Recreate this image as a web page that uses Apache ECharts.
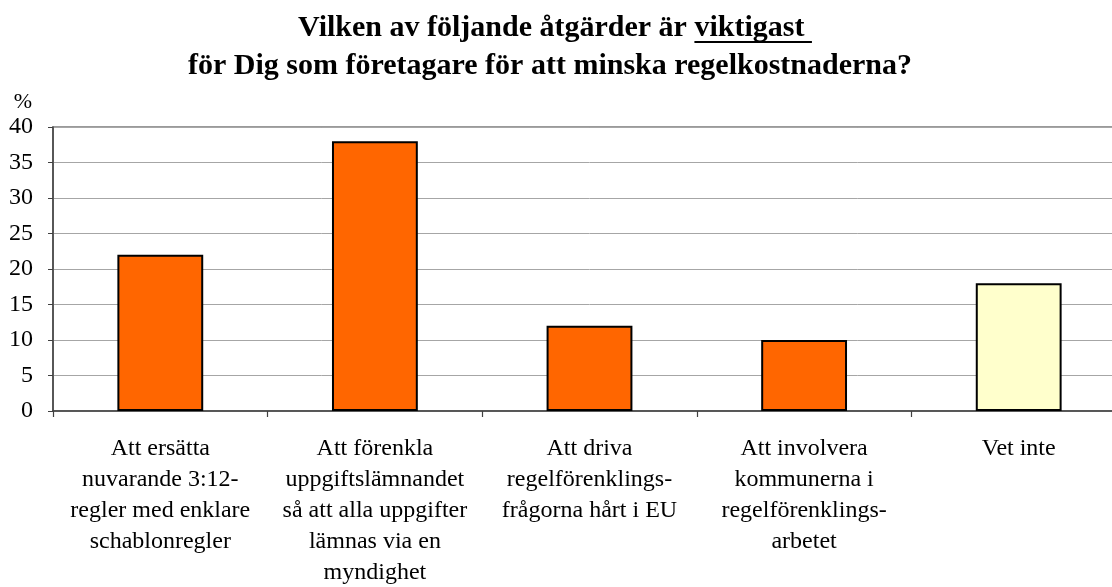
<!DOCTYPE html>
<html>
<head>
<meta charset="utf-8">
<script src="https://cdn.jsdelivr.net/npm/echarts@6/dist/echarts.min.js"></script>
<style>html,body{margin:0;padding:0;background:#fff;overflow:hidden}#c{width:1130px;height:587px}</style>
</head>
<body>
<div id="c"></div>
<script>
const titleLine1a = 'Vilken av följande åtgärder är ';
const titleLine1b = 'viktigast ';
const titleLine2 = 'för Dig som företagare för att minska regelkostnaderna?';
const categories = [
  'Att ersätta\nnuvarande 3:12-\nregler med enklare\nschablonregler',
  'Att förenkla\nuppgiftslämnandet\nså att alla uppgifter\nlämnas via en\nmyndighet',
  'Att driva\nregelförenklings-\nfrågorna hårt i EU',
  'Att involvera\nkommunerna i\nregelförenklings-\narbetet',
  'Vet inte'
];
const values = [22, 38, 12, 10, 18];
const barColors = ['#FF6600', '#FF6600', '#FF6600', '#FF6600', '#FFFFCC'];
const yTicks = [0, 5, 10, 15, 20, 25, 30, 35, 40];
const yUnit = '%';

const font = '"Liberation Serif", "Times New Roman", serif';
const titleSize = 30;
const titleFont = 'bold ' + titleSize + 'px "Liberation Serif", "Times New Roman", serif';

// measure for underline
const cv = document.createElement('canvas').getContext('2d');
cv.font = titleFont;
const wA = cv.measureText(titleLine1a).width;
const wB = cv.measureText(titleLine1b).width;
const line1Center = 555;
const startX = line1Center - (wA + wB) / 2 + wA;
const ulY = 42;

const chart = echarts.init(document.getElementById('c'), null, {renderer: 'canvas'});
chart.setOption({
  animation: false,
  backgroundColor: '#fff',
  graphic: [
    {type: 'text', x: line1Center, y: 13, style: {text: titleLine1a + titleLine1b, font: titleFont, fill: '#000', align: 'center', verticalAlign: 'top'}},
    {type: 'text', x: 550, y: 51, style: {text: titleLine2, font: titleFont, fill: '#000', align: 'center', verticalAlign: 'top'}},
    {type: 'line', shape: {x1: startX, y1: ulY, x2: startX + wB, y2: ulY}, style: {stroke: '#000', lineWidth: 2}},
    {type: 'text', x: 23, y: 102, style: {text: yUnit, font: '22px ' + font, fill: '#000', align: 'center', verticalAlign: 'middle'}}
  ],
  grid: {left: 53, top: 127, right: 4, bottom: 176, show: true, borderColor: '#7a7a7a', borderWidth: 1.5, backgroundColor: 'transparent', containLabel: false, outerBoundsMode: 'none'},
  xAxis: {
    type: 'category',
    data: categories,
    axisLine: {lineStyle: {color: '#404040', width: 1.5}},
    axisTick: {show: true, alignWithLabel: false, length: 6, lineStyle: {color: '#404040', width: 1.2}},
    axisLabel: {interval: 0, margin: 22, fontFamily: font, fontSize: 24, lineHeight: 31, color: '#000', verticalAlign: 'top'}
  },
  yAxis: {
    type: 'value',
    min: 0, max: 40, interval: 5,
    axisLine: {show: true, lineStyle: {color: '#404040', width: 1.5}},
    axisTick: {show: true, length: 5, lineStyle: {color: '#404040'}},
    splitLine: {lineStyle: {color: '#a6a6a6', width: 1}},
    axisLabel: {margin: 20, fontFamily: font, fontSize: 24, color: '#000',
      formatter: v => yTicks.includes(v) ? String(v) : ''}
  },
  series: [{
    type: 'bar',
    data: values.map((v, i) => ({value: v, itemStyle: {color: barColors[i]}})),
    barWidth: '40%',
    itemStyle: {borderColor: '#000', borderWidth: 2}
  }]
});
</script>
</body>
</html>
